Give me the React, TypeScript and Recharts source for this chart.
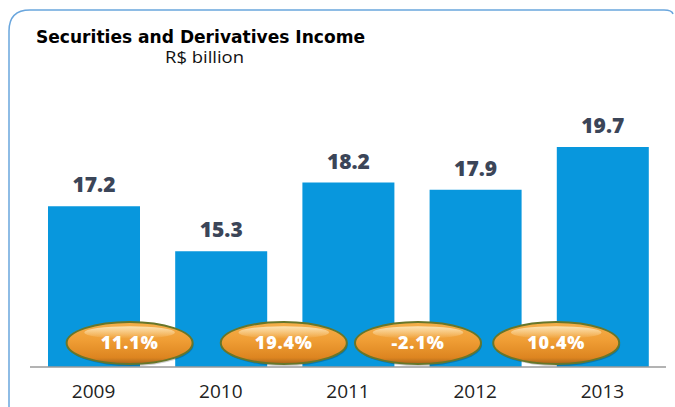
import { Bar, BarChart, LabelList, XAxis, YAxis } from "recharts";

const YEARS = ["2009", "2010", "2011", "2012", "2013"];
const INCOME = [17.2, 15.3, 18.2, 17.9, 19.7];
// year-over-year change, shown between consecutive bars (none for the first year)
const GROWTH = [null, 11.1, 19.4, -2.1, 10.4];

const W = 675;
const H = 407;
const MARGIN = { top: 140, right: 9, left: 30, bottom: 0 };
const STEP = (W - MARGIN.left - MARGIN.right) / YEARS.length;
// small horizontal nudges for the growth badges
const BADGE_NUDGE = [0, -28, -1, 6, 17];

const BAR_BLUE = "#0897dd";
const FONT = "'Open Sans', 'DejaVu Sans', sans-serif";

const data = YEARS.map((year, i) => ({
  year,
  income: INCOME[i],
  growth: GROWTH[i],
}));

function GrowthBadge(props: any) {
  const { x, width, y, height, value, index } = props;
  if (value == null) return null;
  const cx = x + width / 2 - STEP / 2 + BADGE_NUDGE[index];
  const cy = y + height - 24;
  const rx = 63;
  const ry = 21;
  const label = `${value.toFixed(1)}%`;
  return (
    <g>
      <ellipse cx={cx + 1} cy={cy + 2} rx={rx} ry={ry} fill="#000" opacity={0.2} />
      <ellipse cx={cx} cy={cy} rx={rx} ry={ry} fill="url(#badgeFill)" stroke="#67762a" strokeWidth={2} />
      <ellipse cx={cx} cy={cy - ry * 0.5} rx={rx * 0.72} ry={ry * 0.3} fill="url(#badgeShine)" />
      <text
        x={cx}
        y={cy + 6}
        textAnchor="middle"
        fill="#ffffff"
        fontFamily={FONT}
        fontWeight={800}
        fontSize={18}
        letterSpacing={0.8}
      >
        {label}
      </text>
    </g>
  );
}

export default function App() {
  return (
    <div style={{ position: "absolute", left: 0, top: 0, width: W, height: H, background: "#fff" }}>
      <svg width={W} height={H} style={{ position: "absolute", left: 0, top: 0 }}>
        <defs>
          <linearGradient id="badgeFill" x1="0" y1="0" x2="0" y2="1">
            <stop offset="0%" stopColor="#f5b04c" />
            <stop offset="45%" stopColor="#ef9d34" />
            <stop offset="85%" stopColor="#dd8520" />
            <stop offset="100%" stopColor="#a8641a" />
          </linearGradient>
          <linearGradient id="badgeShine" x1="0" y1="0" x2="0" y2="1">
            <stop offset="0%" stopColor="#fff2d0" stopOpacity={0.8} />
            <stop offset="100%" stopColor="#fff2d0" stopOpacity={0} />
          </linearGradient>
        </defs>
        <path
          d="M9 407 L9 31 Q9 10 30 10 L664 10 Q672 10 673 14"
          fill="none"
          stroke="#6aa6dd"
          strokeWidth={1.5}
        />
        <text
          x={36}
          y={43}
          fontFamily="'DejaVu Sans', sans-serif"
          fontWeight={700}
          fontSize={18}
          textLength={329}
          lengthAdjust="spacingAndGlyphs"
          fill="#000"
        >
          Securities and Derivatives Income
        </text>
        <text
          x={165}
          y={63}
          fontFamily={FONT}
          fontSize={16}
          textLength={79}
          lengthAdjust="spacingAndGlyphs"
          fill="#111"
        >
          R$ billion
        </text>
      </svg>
      <div style={{ position: "absolute", left: 0, top: 0 }}>
        <BarChart width={W} height={H} data={data} margin={MARGIN}>
          <XAxis
            dataKey="year"
            height={40}
            tickLine={false}
            tickSize={0}
            tickMargin={18}
            axisLine={{ stroke: "#9a9a9a", strokeWidth: 1.5 }}
            tick={{ fill: "#222", fontSize: 19, fontFamily: FONT }}
          />
          <YAxis hide domain={[10.4, 20]} allowDataOverflow />
          <Bar dataKey="income" fill={BAR_BLUE} barSize={92} isAnimationActive={false}>
            <LabelList
              dataKey="income"
              position="top"
              offset={14}
              fill="#3b4558"
              fontFamily={FONT}
              fontWeight={800}
              fontSize={21}
              formatter={(v: any) => Number(v).toFixed(1)}
            />
            <LabelList dataKey="growth" content={GrowthBadge} />
          </Bar>
        </BarChart>
      </div>
    </div>
  );
}
